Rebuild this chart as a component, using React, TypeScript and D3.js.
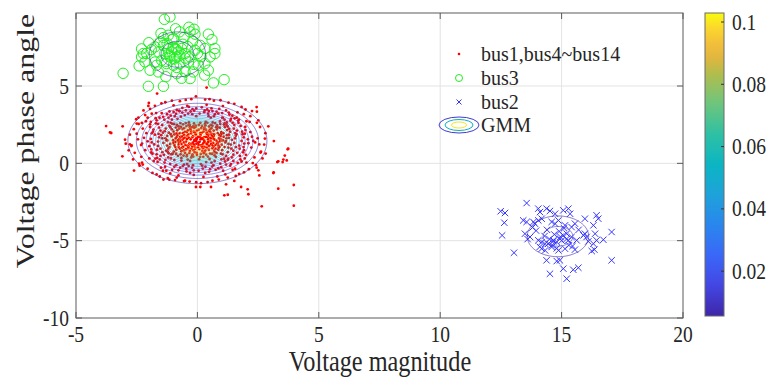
import React, { useMemo } from "react";
import * as d3 from "d3";

const W = 770;
const H = 378;
const PLOT = { left: 76, right: 683, top: 13, bottom: 318 };
const CB = { left: 705, right: 724, top: 13, bottom: 316 };

const xDomain = [-5, 20];
const yDomain = [-10, 9.72];
const xTicks = [-5, 0, 5, 10, 15, 20];
const yTicks = [-10, -5, 0, 5];
const cbDomain = [0.0056, 0.1029];
const cbTicks = [0.02, 0.04, 0.06, 0.08, 0.1];
const contourLevels = [
  0.005, 0.01, 0.015, 0.02, 0.025, 0.03, 0.035, 0.04, 0.045, 0.05,
  0.055, 0.06, 0.065, 0.07, 0.075, 0.08, 0.085, 0.09, 0.095, 0.1,
];
const parulaPos = [0, 0.1, 0.2, 0.3, 0.4, 0.5, 0.6, 0.7, 0.8, 0.86, 0.93, 1];
const parulaCol = [
  "#3E26A8", "#4346E3", "#3A67F8", "#2986EE", "#1EA2DA", "#0BB5C3",
  "#2EC0A4", "#6DC57D", "#B2BD4C", "#E8B43C", "#FBC83A", "#F9FB0E",
];

const legendLabels = ["bus1,bus4~bus14", "bus3", "bus2", "GMM"];
const xLabel = "Voltage magnitude";
const yLabel = "Voltage phase angle";

// GMM components: weight, mean, sigma
const gmmWeights = [0.857, 0.0715, 0.0715];
const gmmMeans = [[0, 1.45], [-0.82, 7.05], [14.85, -4.72]];
const gmmSigmas = [[1.16, 1.12], [0.8, 1.0], [0.94, 0.98]];

// bus1, bus4~bus14 (red dots) — outer cloud
const busOtherPts: number[][] = [
  [-0.12,1.52],[0.25,1.31],[-0.41,1.78],[0.63,1.62],[-0.78,1.21],[0.08,0.92],[0.47,2.08],[-0.29,2.21],[0.91,1.05],[-0.95,1.87],
  [0.18,1.97],[-0.56,0.84],[0.72,0.71],[-0.07,2.44],[0.36,0.56],[-0.68,2.35],[0.98,2.02],[-0.21,1.08],[0.54,1.44],[-0.88,0.62],
  [0.03,1.71],[-0.47,1.41],[0.29,2.31],[0.82,1.28],[-0.33,0.67],[0.11,0.42],[-0.74,1.58],[0.61,0.97],[-0.15,2.05],[0.42,1.73],
  [-0.99,1.33],[0.77,2.34],[-0.52,2.03],[0.15,1.16],[-0.26,1.93],[0.89,1.61],[-0.63,1.02],[0.33,0.83],[-0.04,1.27],[0.58,2.27],
  [-0.83,2.14],[0.21,1.58],[-0.38,0.98],[0.69,1.88],[-0.11,0.71],[0.49,1.12],[-0.71,1.71],[0.06,2.18],[-0.45,2.41],[0.94,1.43],
  [-0.19,1.34],[0.38,1.98],[-0.91,1.05],[0.26,0.66],[-0.58,1.61],[0.74,1.19],[-0.02,0.55],[0.55,2.49],[-0.35,1.64],[0.13,1.84],
  [-0.66,0.78],[0.86,0.88],[-0.24,2.33],[0.44,1.55],[-0.81,1.48],[0.02,1.04],[0.67,2.12],[-0.49,1.19],[0.31,1.37],[-0.16,0.84],
  [0.19,2.42],[-0.72,0.95],[0.52,0.63],[-0.31,2.48],[0.96,1.77],[-0.86,1.93],[0.09,1.39],[-0.43,0.55],[0.65,1.32],[-0.08,1.91],
  [0.35,2.17],[-0.61,2.22],[0.81,2.45],[-0.97,0.76],[0.23,0.98],[-0.27,1.22],[0.46,1.86],[-0.54,1.83],[0.71,0.52],[-0.14,2.29],
  [0.59,1.78],[-0.39,2.14],[0.14,0.61],[-0.76,1.34],[0.87,1.14],[-0.05,1.62],[0.39,1.02],[-0.89,2.31],[0.27,1.69],[-0.22,0.49],
  [-1.45,1.62],[1.38,1.21],[-1.21,2.65],[1.52,2.48],[-1.67,0.88],[1.74,0.95],[-0.52,3.12],[0.44,3.21],[-0.18,-0.12],[0.61,-0.21],
  [-1.88,1.94],[1.91,1.68],[-1.32,0.23],[1.27,0.31],[-0.93,3.05],[1.05,2.93],[-1.58,2.31],[1.63,2.12],[-1.12,-0.05],[1.18,-0.08],
  [-0.28,3.35],[0.22,-0.34],[-1.78,1.22],[1.82,1.45],[-1.41,3.01],[1.36,2.76],[-0.71,-0.28],[0.86,-0.31],[-1.95,2.52],[1.97,2.35],
  [-1.24,1.48],[1.22,1.82],[-1.52,0.48],[1.48,0.56],[-0.82,2.88],[0.93,2.71],[-0.05,3.05],[0.14,-0.05],[-1.68,2.78],[1.71,2.83],
  [-1.09,0.32],[1.14,0.12],[-0.46,-0.35],[0.47,3.38],[-1.85,0.62],[1.88,0.71],[-1.35,2.08],[1.31,2.22],[-0.62,3.28],[0.68,3.05],
  [-1.03,2.55],[1.09,2.51],[-1.62,1.41],[1.58,1.05],[-0.36,-0.18],[0.33,-0.22],[-1.92,1.58],[1.95,1.92],[-1.28,0.82],[1.25,0.72],
  [-0.98,3.32],[1.02,3.25],[-1.47,3.25],[1.44,3.08],[-1.73,0.31],[1.77,0.25],[-0.21,3.18],[0.28,3.31],[-1.15,1.05],[1.17,1.44],
  [-0.87,-0.12],[0.94,-0.02],[-1.56,2.95],[1.53,2.91],[-1.98,1.11],[1.93,1.28],[-1.19,2.95],[1.21,2.64],[-0.74,3.36],[0.79,3.34],
  [-1.38,0.55],[1.42,0.39],[-0.55,-0.08],[0.58,0.05],[-1.81,2.18],[1.84,2.05],[-1.06,1.75],[1.07,1.95],[-1.64,0.09],[1.66,0.03],
  [-0.13,3.4],[0.09,3.22],[-1.25,3.18],[1.29,3.28],[-1.49,1.82],[1.55,1.62],[-0.95,0.21],[0.99,0.26],[-1.71,2.58],[1.69,2.62],
  [-0.38,3.22],[0.55,2.95],[-1.33,-0.22],[1.35,-0.15],[-1.9,0.9],[1.9,1.05],[-1.11,2.32],[1.13,2.35],[-0.66,0.18],[0.71,0.15],
  [-1.6,1.9],[1.61,1.88],[-0.3,0.15],[0.36,0.08],[-1.02,0.62],[1.04,0.58],
  [-2.45,1.55],[2.48,1.62],[-2.62,2.21],[2.58,2.35],[-2.31,0.42],[2.35,0.38],[-2.15,3.12],[2.18,3.05],[-1.75,3.72],[1.82,3.65],
  [-1.05,4.05],[0.95,4.08],[-0.25,4.15],[0.32,4.12],[-2.72,1.12],[2.75,1.21],[-2.52,2.85],[2.51,2.78],[-2.38,-0.15],[2.41,-0.12],
  [-1.85,-0.62],[1.92,-0.58],[-1.22,-0.95],[1.25,-0.92],[-0.55,-1.15],[0.62,-1.12],[-0.05,-1.22],[0.15,-1.28],[-2.58,0.68],[2.62,0.75],
  [-2.22,3.42],[2.25,3.38],[-1.48,3.88],[1.52,3.85],[-0.72,4.02],[0.68,4.05],[-2.78,1.85],[2.8,1.95],[-2.05,-0.35],[2.12,-0.38],
  [-1.55,-0.85],[1.58,-0.82],[-0.92,-1.08],[0.88,-1.05],[-0.32,-1.18],[0.42,-1.21],[-2.42,2.55],[2.45,2.62],[-2.65,0.25],[2.68,0.32],
  [-1.95,3.52],[1.98,3.48],[-1.32,3.95],[1.28,3.92],[-0.48,4.1],[0.5,4.15],[-2.25,-0.08],[2.28,0.02],[-1.68,-0.72],[1.72,-0.68],
  [-1.12,-0.65],[1.15,-0.72],[-0.78,-0.78],[0.82,-0.85],[-2.5,1.92],[2.55,1.22],[-2.12,2.72],[2.15,2.68],[-1.88,3.21],[1.91,3.18],
  [-2.32,1.18],[2.38,1.35],[-0.15,-0.75],[0.25,-0.88],[-1.42,-0.48],[1.45,-0.42],[-0.42,3.72],[0.38,3.78],[-2.0,3.9],[2.02,0.05],
  [-0.98,3.75],[1.05,3.7],
  [-3.76,2.41],[-3.6,2.0],[-3.55,1.96],[-3.08,2.39],[-2.98,1.53],[-2.95,1.27],[-3.09,0.45],[-2.61,-0.47],[-2.83,0.84],[-2.78,1.23],
  [-2.71,1.16],[-1.66,4.51],[-2.02,3.71],[-2.29,2.61],[-1.4,-1.05],[-1.16,-1.05],[-0.85,-0.92],[-0.51,-1.12],[-0.06,-1.53],[2.44,3.64],
  [2.45,3.34],[2.92,2.39],[3.15,1.44],[3.72,0.91],[3.6,0.5],[3.54,0.24],[3.29,0.08],[3.33,0.13],[3.14,-0.58],[2.55,-0.78],
  [2.51,-0.45],[2.44,-0.28],[3.97,-1.4],[3.33,-1.64],[2.07,-1.68],[2.1,-2.0],[1.8,-1.53],[1.25,-2.03],[1.11,-2.07],[2.65,-2.78],
  [3.97,-2.74],[1.52,-1.14],[1.18,-1.36],[0.56,-1.53],[0.12,-1.53],[2.78,1.6],[2.81,0.63],[2.6,0.7],[-2.5,2.57],[-2.43,2.96],
  [-2.4,-0.02],[-2.28,0.04],[0.38,4.9],[-0.06,4.33],[3.51,0.08],[3.68,0.19],[3.74,0.95],[3.13,-0.63],
];

// bus1, bus4~bus14 (red dots) — dense core
const busOtherCorePts: number[][] = [
  [-0.05,1.45],[0.17,1.62],[-0.33,1.29],[0.41,1.21],[-0.62,1.52],[0.58,1.9],[-0.18,1.75],[0.05,1.18],[-0.44,2.02],[0.31,2.55],
  [-0.9,1.62],[0.95,1.58],[-1.12,1.25],[1.15,1.35],[-0.25,0.38],[0.12,2.62],[-0.7,2.6],[0.76,0.42],[-1.05,2.2],[1.02,0.85],
  [-0.51,0.68],[0.63,2.64],[-0.09,0.95],[0.28,1.46],[-0.37,1.87],[0.84,1.95],[-0.8,0.48],[0.5,0.28],[-1.2,0.95],[1.22,2.15],
  [-0.14,2.58],[0.07,0.26],[-0.59,2.52],[0.92,2.3],[-1.25,1.78],[1.27,1.02],[-0.28,1.55],[0.36,1.71],[-0.47,0.91],[0.66,1.09],
  [-0.02,2.12],[0.2,0.81],[-0.73,1.94],[0.48,2.38],[-0.94,1.17],[1.08,1.72],[-0.35,2.65],[0.25,2.05],[-0.66,0.35],[0.78,1.47],
  [-1.08,0.58],[1.12,2.58],[-0.12,1.12],[0.43,0.44],[-0.85,2.48],[0.57,1.25],[-0.22,1.68],[0.13,1.55],[-0.55,1.35],[0.69,0.82],
  [-1.15,2.42],[1.18,0.48],[-0.4,0.24],[0.34,2.68],[-0.77,1.05],[0.9,1.82],[-0.06,1.83],[0.04,1.33],[-0.31,0.81],[0.52,2.18],
  [-0.98,2.05],[1.0,1.2],[-0.17,2.4],[0.22,1.22],[-0.64,1.74],[0.8,2.19],[-1.28,1.5],[1.3,1.85],[-0.43,1.57],[0.45,1.38],
  [-0.03,0.68],[0.16,2.28],[-0.87,0.88],[0.61,0.62],[-0.54,2.28],[0.97,0.62],[-0.2,0.58],[0.3,1.06],[-0.75,2.25],[0.73,2.6],
  [-1.0,1.5],[1.05,1.48],[-0.36,1.08],[0.39,1.9],[-0.13,1.45],[0.1,1.72],[-0.58,1.08],[0.55,1.62],[-0.82,1.8],[0.85,1.35],
  [-0.27,2.1],[0.24,0.42],[-1.18,1.98],[1.2,1.62],[-0.48,2.6],[0.62,2.43],[-0.69,0.58],[0.75,0.95],[-0.96,2.55],[0.94,2.55],
  [-0.08,2.35],[0.33,2.45],[-0.41,1.15],[0.47,0.88],[-0.6,1.95],[0.67,1.75],[-0.17,0.44],[0.06,2.48],[-0.91,1.38],[0.88,1.02],
  [-1.22,0.75],[1.25,2.38],[-0.32,2.35],[0.19,1.08],[-0.5,1.65],[0.53,2.04],[-0.78,2.4],[0.79,0.68],[-0.1,1.98],[0.37,1.28],
  [-0.65,1.25],[0.6,1.18],[-0.24,0.95],[0.28,0.72],[-0.86,1.68],[0.98,1.9],[-1.1,2.62],[1.1,0.3],[-0.44,0.45],[0.41,2.62],
  [-0.02,1.58],[0.12,1.95],[-0.71,1.42],[0.7,1.54],[-0.36,2.5],[0.27,2.22],[-0.15,1.22],[0.48,1.64],[-0.57,0.5],[0.83,2.32],
  [-1.62,1.12],[1.58,1.78],[-1.45,2.48],[1.48,0.82],[-1.83,2.05],[1.78,2.42],[-1.35,0.05],[1.38,-0.05],[-0.85,3.45],[0.9,3.52],
  [-0.45,-0.52],[0.48,-0.55],[-2.05,1.42],[2.08,1.55],[-1.72,2.92],[1.75,0.48],[-1.15,3.35],[1.18,3.42],[-0.15,-0.45],[0.18,3.62],
  [-2.15,0.85],[2.18,2.02],[-1.5,-0.28],[1.55,-0.35],[-0.62,3.58],[0.58,3.55],[-1.92,2.68],[1.95,0.32],[-1.28,-0.48],[1.32,3.15],
  [-2.25,2.25],[2.22,1.02],[-1.04,-0.42],[1.06,-0.48],[-0.35,3.65],[0.32,-0.62],[-1.68,0.58],[1.62,2.95],[-1.98,0.32],[2.02,2.72],
  [-1.4,1.32],[1.42,1.52],[-1.58,1.68],[1.52,1.32],[-1.3,2.25],[1.35,2.05],[-1.44,0.72],[1.45,2.62],[-1.2,0.38],[1.25,0.22],
  [-1.75,1.85],[1.72,1.15],[-1.52,0.95],[1.5,2.25],[-0.95,-0.22],[0.98,-0.25],[-0.68,3.02],[0.72,3.18],[-0.22,-0.28],[0.2,-0.15],
  [-1.88,1.35],[1.86,1.88],[-1.62,2.55],[1.64,0.68],[-1.1,3.08],[1.12,2.82],[-0.48,3.42],[0.46,3.05],[-2.1,1.95],[2.1,1.3],
  [-1.8,0.15],[1.82,0.12],[-0.78,-0.45],[0.75,-0.42],[-0.05,3.55],[0.05,-0.48],[-2.2,1.65],[2.25,1.72],[-1.36,2.82],[1.38,2.88],
  [-1.66,0.35],[1.68,2.75],[-0.3,-0.62],[0.4,3.48],[-1.95,2.35],[1.98,2.15],[-1.25,1.15],[1.28,1.25],[-1.1,1.88],[1.12,1.05],
  [-1.42,1.98],[1.4,0.95],[-1.32,1.62],[1.3,1.65],[-1.52,2.12],[1.55,1.95],[-1.18,0.65],[1.2,2.48],[-0.6,-0.18],[0.66,-0.12],
  [-0.88,3.2],[0.86,3.22],[-2.28,1.28],[2.3,1.45],[-1.9,0.7],[1.92,0.85],[-1.7,3.25],[1.65,3.3],[-0.2,3.5],[0.3,3.42],
  [-1.05,2.82],[1.02,2.95],[-1.55,0.25],[1.48,0.15],[-2.05,2.95],[2.0,0.55],[-0.42,-0.05],[0.52,-0.38],[-0.75,3.4],[0.62,3.38],
];

// bus3 (green circles)
const bus3Pts: number[][] = [
  [-1.13,9.47],[-1.36,9.31],[-0.74,8.5],[-0.3,8.5],[-0.1,8.35],[0.45,8.35],[-1.2,8.28],[-1.4,8.13],[-0.99,8.06],[-1.54,7.85],
  [-1.75,7.53],[-2.23,7.1],[-2.09,7.1],[-2.3,6.88],[-2.16,6.56],[-1.95,6.02],[-1.4,7.63],[-1.2,7.42],[-1.06,7.2],[-0.92,7.42],
  [-0.79,7.2],[-0.65,7.42],[-0.51,7.1],[-0.85,6.88],[-1.13,6.88],[-1.34,7.1],[-1.47,6.66],[-1.68,6.34],[-1.27,6.45],[-0.99,6.34],
  [-0.72,6.45],[-0.37,6.56],[-0.3,6.88],[-0.1,7.31],[0.11,7.63],[0.31,7.42],[0.72,7.42],[0.72,7.1],[0.52,6.88],[0.45,6.02],
  [0.31,6.45],[0.04,6.34],[-0.17,5.91],[-0.51,5.91],[-0.85,5.8],[-0.3,5.48],[-1.4,4.98],[-2.02,4.98],[0.66,5.2],[1.1,5.41],
  [-1.61,5.91],[-3.06,5.82],[-0.14,8.67],
  [-1.0,7.5],[-0.85,7.35],[-1.15,7.0],[-0.95,6.75],[-0.6,7.7],[-1.25,7.75],[-0.75,6.95],[-1.3,6.6],[-0.5,6.8],[-1.6,7.2],
  [-0.4,7.55],[-1.05,8.0],[-0.55,8.15],[-1.9,7.35],[-1.5,8.4],[-0.2,7.9],[0.15,6.9],[-2.4,6.3],[-0.15,6.4],[-0.85,6.2],
  [0.0,7.1],[-1.75,6.55],[-1.3,5.6],[0.3,5.7],[-0.65,5.5],[-2.0,7.8],[-2.3,7.4],[0.6,8.0],[-0.35,8.8],[-0.9,8.7],
];

// bus2 (blue crosses)
const bus2Pts: number[][] = [
  [14.04,-2.93],[14.11,-3.15],[14.38,-2.93],[14.52,-3.08],[14.73,-3.26],[15.07,-3.04],[15.28,-2.93],[15.35,-3.26],[13.42,-3.69],[13.56,-3.79],
  [13.84,-3.79],[13.9,-3.9],[14.04,-3.69],[14.18,-3.58],[14.59,-3.79],[14.73,-3.9],[14.87,-3.69],[15.14,-4.01],[15.41,-4.12],[15.55,-3.9],
  [15.96,-3.58],[16.44,-3.36],[16.51,-3.58],[16.31,-4.01],[13.49,-4.55],[13.7,-4.76],[14.04,-4.98],[14.18,-5.09],[14.32,-5.2],[14.45,-5.2],
  [14.66,-4.98],[14.8,-5.09],[14.93,-4.87],[15.07,-4.66],[15.21,-4.55],[15.28,-4.98],[15.41,-4.76],[15.62,-4.98],[15.9,-4.66],[15.96,-4.55],
  [16.03,-4.76],[16.38,-4.55],[16.31,-5.2],[17.06,-4.44],[16.72,-4.94],[16.44,-4.98],[14.18,-5.52],[14.32,-5.63],[14.59,-5.41],[14.87,-5.63],
  [15.14,-5.52],[15.55,-5.58],[16.24,-5.67],[16.35,-5.58],[14.38,-6.27],[14.8,-6.32],[14.93,-6.27],[15.07,-6.81],[15.48,-6.88],[15.69,-6.75],
  [14.52,-7.14],[15.21,-7.46],[17.06,-6.27],[12.49,-3.1],[12.67,-3.21],[12.64,-3.84],[12.55,-4.66],[13.04,-5.78],[13.56,-2.57],
  [14.5,-4.9],[14.7,-4.6],[14.9,-4.4],[15.0,-5.0],[14.6,-5.3],[15.1,-4.2],[14.3,-4.7],[14.8,-5.5],[15.3,-5.3],[14.4,-4.3],
  [15.2,-4.9],[14.95,-4.75],[14.65,-5.05],[13.95,-4.35],[13.8,-4.15],[15.45,-5.35],[15.7,-4.3],[16.1,-5.05],[13.6,-4.9],[14.1,-5.4],
];

const FONT = "'Liberation Serif', 'Times New Roman', serif";
const TXT = "#262626";

function Txt(props: {
  x: number; y: number; size: number; anchor?: string; sy?: number; rotate?: number;
  baseline?: string; children: React.ReactNode;
}) {
  const { x, y, size, anchor = "middle", sy = 1.2, rotate = 0, baseline = "central", children } = props;
  return (
    <text
      transform={`translate(${x},${y}) scale(1,${sy})${rotate ? ` rotate(${rotate})` : ""}`}
      fontSize={size}
      fontFamily={FONT}
      textAnchor={anchor as any}
      dominantBaseline={baseline as any}
      fill={TXT}
    >
      {children}
    </text>
  );
}

export default function App() {
  const x = d3.scaleLinear().domain(xDomain).range([PLOT.left, PLOT.right]);
  const y = d3.scaleLinear().domain(yDomain).range([PLOT.bottom, PLOT.top]);
  const parula = d3.scaleLinear<string>().domain(parulaPos).range(parulaCol).interpolate(d3.interpolateRgb);
  const colorOf = (v: number) => parula((v - cbDomain[0]) / (cbDomain[1] - cbDomain[0]));
  const cbY = d3.scaleLinear().domain(cbDomain).range([CB.bottom, CB.top]);

  const contourPaths = useMemo(() => {
    const gx0 = -5, gy0 = -10, d = 0.03;
    const nx = Math.round(25 / d) + 1;
    const ny = Math.round(20 / d) + 1;
    const values = new Float64Array(nx * ny);
    for (let j = 0; j < ny; j++) {
      const yy = gy0 + j * d;
      for (let i = 0; i < nx; i++) {
        const xx = gx0 + i * d;
        let s = 0;
        for (let k = 0; k < gmmWeights.length; k++) {
          const [mx, my] = gmmMeans[k];
          const [sx, sy] = gmmSigmas[k];
          const dx = (xx - mx) / sx, dy = (yy - my) / sy;
          const e = dx * dx + dy * dy;
          if (e < 60) s += (gmmWeights[k] / (2 * Math.PI * sx * sy)) * Math.exp(-0.5 * e);
        }
        values[j * nx + i] = s;
      }
    }
    const cs = d3.contours().size([nx, ny]).thresholds(contourLevels)(Array.from(values));
    const proj = d3.geoTransform({
      point(px: number, py: number) {
        (this as any).stream.point(x(gx0 + (px - 0.5) * d), y(gy0 + (py - 0.5) * d));
      },
    });
    const path = d3.geoPath(proj);
    return cs.map((c) => ({ level: c.value, d: path(c as any) || "" }));
  }, []);

  const gradStops = d3.range(0, 1.0001, 0.05);
  const redPts = busOtherPts.concat(busOtherCorePts);

  return (
    <svg width={W} height={H} style={{ position: "absolute", left: 0, top: 0, background: "#fff" }}>
      <defs>
        <linearGradient id="cbGrad" x1="0" y1="1" x2="0" y2="0">
          {gradStops.map((t) => (
            <stop key={t} offset={t} stopColor={parula(t)} />
          ))}
        </linearGradient>
        <clipPath id="plotClip">
          <rect x={PLOT.left} y={PLOT.top} width={PLOT.right - PLOT.left} height={PLOT.bottom - PLOT.top} />
        </clipPath>
      </defs>
      <rect x={0} y={0} width={W} height={H} fill="#fff" />

      {/* grid */}
      <g stroke="#e3e3e3" strokeWidth={1}>
        {xTicks.slice(1, -1).map((t) => (
          <line key={"gx" + t} x1={x(t)} x2={x(t)} y1={PLOT.top} y2={PLOT.bottom} />
        ))}
        {yTicks.slice(1).map((t) => (
          <line key={"gy" + t} x1={PLOT.left} x2={PLOT.right} y1={y(t)} y2={y(t)} />
        ))}
      </g>

      <g clipPath="url(#plotClip)">
        {/* red dots */}
        <g fill="#ff0000">
          {redPts.map((p, i) => (
            <circle key={i} cx={x(p[0])} cy={y(p[1])} r={1.4} />
          ))}
        </g>
        {/* green circles */}
        <g fill="none" stroke="#22ee22" strokeWidth={1}>
          {bus3Pts.map((p, i) => (
            <circle key={i} cx={x(p[0])} cy={y(p[1])} r={5.2} />
          ))}
        </g>
        {/* blue crosses */}
        <g stroke="#3535ff" strokeWidth={1}>
          {bus2Pts.map((p, i) => {
            const cx = x(p[0]), cy = y(p[1]), s = 3.2;
            return (
              <path key={i} d={`M${cx - s},${cy - s}L${cx + s},${cy + s}M${cx - s},${cy + s}L${cx + s},${cy - s}`} />
            );
          })}
        </g>
        {/* GMM contours */}
        <g fill="none" strokeWidth={0.8} strokeOpacity={0.8}>
          {contourPaths.map((c) => (
            <path key={c.level} d={c.d} stroke={colorOf(c.level)} />
          ))}
        </g>
      </g>

      {/* axes box */}
      <rect x={PLOT.left} y={PLOT.top} width={PLOT.right - PLOT.left} height={PLOT.bottom - PLOT.top}
        fill="none" stroke="#5a5a5a" strokeWidth={1} />
      <g stroke="#5a5a5a" strokeWidth={1}>
        {xTicks.map((t) => (
          <g key={"tx" + t}>
            <line x1={x(t)} x2={x(t)} y1={PLOT.bottom} y2={PLOT.bottom - 6} />
            <line x1={x(t)} x2={x(t)} y1={PLOT.top} y2={PLOT.top + 6} />
          </g>
        ))}
        {yTicks.map((t) => (
          <g key={"ty" + t}>
            <line x1={PLOT.left} x2={PLOT.left + 6} y1={y(t)} y2={y(t)} />
            <line x1={PLOT.right} x2={PLOT.right - 6} y1={y(t)} y2={y(t)} />
          </g>
        ))}
      </g>

      {/* tick labels */}
      {xTicks.map((t) => (
        <Txt key={"lx" + t} x={x(t)} y={334} size={19.5}>{String(t)}</Txt>
      ))}
      {yTicks.map((t) => (
        <Txt key={"ly" + t} x={69} y={y(t)} size={19.5} anchor="end">{String(t)}</Txt>
      ))}

      {/* axis labels */}
      <Txt x={380} y={371} size={24.3} sy={1.2} baseline="alphabetic">{xLabel}</Txt>
      <Txt x={25} y={141} size={25.5} sy={1.25} rotate={-90}>{yLabel}</Txt>

      {/* legend */}
      <g>
        <circle cx={459} cy={54} r={1.3} fill="#ff0000" />
        <circle cx={459} cy={78} r={3.5} fill="none" stroke="#22ee22" strokeWidth={1} />
        <path d={`M${456.5},${99.5}L${461.5},${104.5}M${456.5},${104.5}L${461.5},${99.5}`} stroke="#3535ff" strokeWidth={1} />
        <ellipse cx={459} cy={125} rx={20} ry={8} fill="none" stroke={colorOf(0.012)} strokeWidth={1} />
        <ellipse cx={459} cy={125} rx={14} ry={5.5} fill="none" stroke={colorOf(0.052)} strokeWidth={1} />
        <ellipse cx={459} cy={125} rx={7.5} ry={3} fill="none" stroke={colorOf(0.1)} strokeWidth={1} />
        {legendLabels.map((l, i) => (
          <Txt key={l} x={481} y={[54, 78, 102, 125][i]} size={20} sy={1.05} anchor="start">{l}</Txt>
        ))}
      </g>

      {/* colorbar */}
      <rect x={CB.left} y={CB.top} width={CB.right - CB.left} height={CB.bottom - CB.top} fill="url(#cbGrad)" stroke="#6a6a6a" strokeWidth={1} />
      <g stroke="#333" strokeWidth={1}>
        {cbTicks.map((t) => (
          <line key={"ct" + t} x1={CB.right} x2={CB.right - 3} y1={cbY(t)} y2={cbY(t)} />
        ))}
      </g>
      {cbTicks.map((t) => (
        <Txt key={"cl" + t} x={732} y={cbY(t)} size={19.5} anchor="start">{String(t)}</Txt>
      ))}
    </svg>
  );
}
